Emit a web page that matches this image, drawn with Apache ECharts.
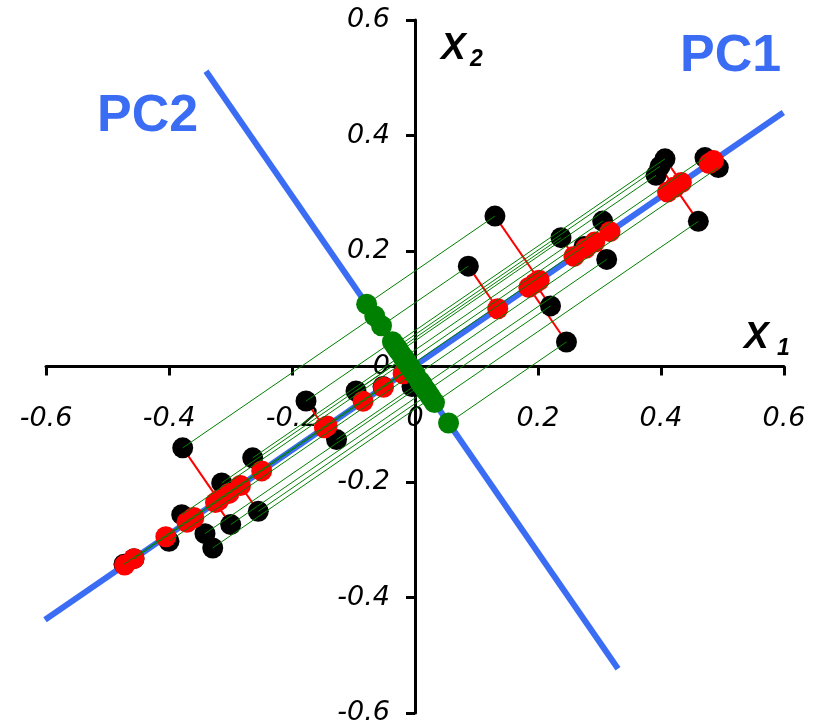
<!DOCTYPE html>
<html>
<head>
<meta charset="utf-8">
<script src="https://cdn.jsdelivr.net/npm/echarts@6/dist/echarts.min.js"></script>
<style>
  html, body { margin: 0; padding: 0; background: #fff; }
  #chart { width: 815px; height: 728px; }
</style>
</head>
<body>
<div id="chart"></div>
<script>
// ---- Data ----
// Original observations (black points)
const blackX = [0.130, 0.0867, 0.2203, 0.2463, 0.2374, 0.3052, 0.3117, 0.2748, 0.4607, 0.4065,
                0.3984, 0.3919, 0.4715, 0.4932, -0.0049, -0.0520, -0.0959, -0.1772, -0.1276, -0.3777,
                -0.2639, -0.3143, -0.2548, -0.2997, -0.3793, -0.3415, -0.3289, -0.4000, -0.4732, -0.4569];
const blackY = [0.2605, 0.1738, 0.1049, 0.0425, 0.2231, 0.2518, 0.1854, 0.2080, 0.2513, 0.3596,
                0.3466, 0.3310, 0.3617, 0.3444, -0.0347, -0.0347, -0.0425, -0.0598, -0.1265, -0.1409,
                -0.1582, -0.2016, -0.2508, -0.2738, -0.2565, -0.2894, -0.3142, -0.3028, -0.3423, -0.3328];
// Principal component axes (end points of the drawn lines)
const pc1X = [-0.6016, 0.5989];
const pc1Y = [-0.4385, 0.4397];
const pc2X = [-0.3398, 0.3301];
const pc2Y = [0.5113, -0.5234];
// Axis range / ticks
const axisMin = -0.6, axisMax = 0.6, axisStep = 0.2;

// ---- Projections onto the PC axes (oblique decomposition) ----
const u1 = [pc1X[1] - pc1X[0], pc1Y[1] - pc1Y[0]];
const u2 = [pc2X[1] - pc2X[0], pc2Y[1] - pc2Y[0]];
function solve(px, py) { // p = a*u1 + b*u2
  const det = u1[0] * u2[1] - u1[1] * u2[0];
  return [(px * u2[1] - py * u2[0]) / det, (u1[0] * py - u1[1] * px) / det];
}
const ab0 = solve(pc2X[0] - pc1X[0], pc2Y[0] - pc1Y[0]);
const cx = pc1X[0] + ab0[0] * u1[0], cy = pc1Y[0] + ab0[0] * u1[1];
const black = [], red = [], green = [], redLinks = [], greenLinks = [];
for (let i = 0; i < blackX.length; i++) {
  const ab = solve(blackX[i] - cx, blackY[i] - cy);
  const r = [cx + ab[0] * u1[0], cy + ab[0] * u1[1]];
  const g = [cx + ab[1] * u2[0], cy + ab[1] * u2[1]];
  const b = [blackX[i], blackY[i]];
  black.push(b); red.push(r); green.push(g);
  redLinks.push({ coords: [b, r] });
  greenLinks.push({ coords: [b, g] });
}

const BLUE = '#3B6CF4';
const FONT = "'Liberation Sans', Arial, sans-serif";
const TICKFONT = "'DejaVu Sans', sans-serif";
const GRID = { left: 46, right: 31, top: 20, bottom: 15 };
const W = 815, H = 728;
const gridW = W - GRID.left - GRID.right, gridH = H - GRID.top - GRID.bottom;
// shift axes so that they cross at the origin
const yOffset = -gridW * (0 - axisMin) / (axisMax - axisMin);
const xOffset = -gridH * (0 - axisMin) / (axisMax - axisMin);

const chart = echarts.init(document.getElementById('chart'), null, { renderer: 'canvas' });
const labelStyle = { color: '#000', fontSize: 27, fontStyle: 'italic', fontFamily: TICKFONT };
function axis(extra) {
  return Object.assign({
    type: 'value', min: axisMin, max: axisMax, interval: axisStep,
    axisLine: { show: true, onZero: false, lineStyle: { color: '#000', width: 3 } },
    axisTick: { show: true, length: 9, lineStyle: { color: '#000', width: 3 } },
    splitLine: { show: false }
  }, extra);
}
chart.setOption({
  animation: false,
  backgroundColor: '#fff',
  grid: Object.assign({ containLabel: false, outerBoundsMode: 'none' }, GRID),
  xAxis: axis({ position: 'bottom', offset: xOffset, axisLabel: Object.assign({ margin: 39 }, labelStyle) }),
  yAxis: axis({ position: 'left', offset: yOffset, axisLabel: Object.assign({ margin: 25 }, labelStyle) }),
  series: [
    { type: 'line', data: [[pc1X[0], pc1Y[0]], [pc1X[1], pc1Y[1]]], symbol: 'none',
      lineStyle: { color: BLUE, width: 6 }, z: 1 },
    { type: 'line', data: [[pc2X[0], pc2Y[0]], [pc2X[1], pc2Y[1]]], symbol: 'none',
      lineStyle: { color: BLUE, width: 6 }, z: 1 },
    { type: 'lines', coordinateSystem: 'cartesian2d', data: redLinks,
      lineStyle: { color: '#FF0000', width: 2, opacity: 1 }, z: 2 },
    { type: 'scatter', data: black, symbolSize: 21, itemStyle: { color: '#000', opacity: 1 }, z: 3 },
    { type: 'scatter', data: red, symbolSize: 21, itemStyle: { color: '#FF0000', opacity: 1 }, z: 4 },
    { type: 'lines', coordinateSystem: 'cartesian2d', data: greenLinks,
      lineStyle: { color: '#008000', width: 1, opacity: 1 }, z: 5 },
    { type: 'scatter', data: green, symbolSize: 21, itemStyle: { color: '#008000', opacity: 1 }, z: 6 }
  ],
  graphic: [
    { type: 'text', x: 680, y: 57, z: 10, style: { text: 'PC1', fill: BLUE, font: "bold 52px " + FONT,
      textAlign: 'left', textVerticalAlign: 'middle', align: 'left', verticalAlign: 'middle' } },
    { type: 'text', x: 97, y: 117, z: 10, style: { text: 'PC2', fill: BLUE, font: "bold 52px " + FONT,
      textAlign: 'left', textVerticalAlign: 'middle', align: 'left', verticalAlign: 'middle' } },
    { type: 'text', x: 744, y: 338, z: 10, style: { text: 'X', fill: '#000', font: "italic bold 37px " + FONT,
      textAlign: 'left', textVerticalAlign: 'middle', align: 'left', verticalAlign: 'middle' } },
    { type: 'text', x: 777, y: 349, z: 10, style: { text: '1', fill: '#000', font: "italic bold 23px " + FONT,
      textAlign: 'left', textVerticalAlign: 'middle', align: 'left', verticalAlign: 'middle' } },
    { type: 'text', x: 441, y: 49, z: 10, style: { text: 'X', fill: '#000', font: "italic bold 37px " + FONT,
      textAlign: 'left', textVerticalAlign: 'middle', align: 'left', verticalAlign: 'middle' } },
    { type: 'text', x: 470, y: 60, z: 10, style: { text: '2', fill: '#000', font: "italic bold 23px " + FONT,
      textAlign: 'left', textVerticalAlign: 'middle', align: 'left', verticalAlign: 'middle' } }
  ]
});
</script>
</body>
</html>
